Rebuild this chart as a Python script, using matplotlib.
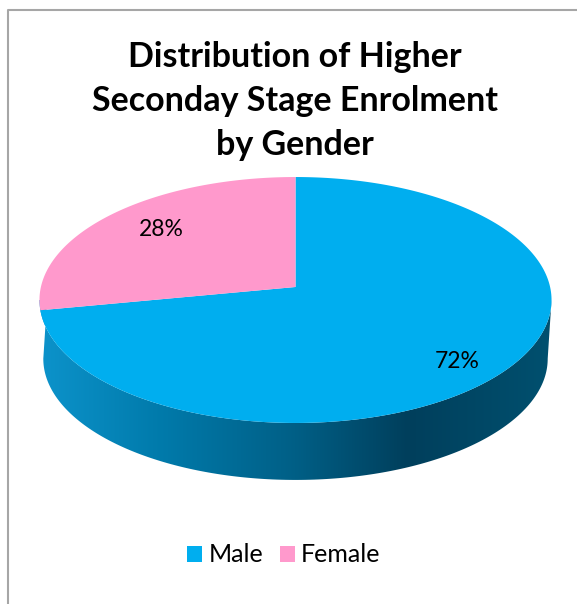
import numpy as np
import matplotlib
matplotlib.use('Agg')
import matplotlib.pyplot as plt
from matplotlib.colors import LinearSegmentedColormap
from matplotlib.patches import Patch, Polygon

categories = ['Male', 'Female']
shares = [72, 28]
colors = ['#00AEEF', '#FF99CC']
title = 'Distribution of Higher\nSeconday Stage Enrolment\nby Gender'

plt.rcParams['font.family'] = ['Lato', 'DejaVu Sans']

# pie geometry in pixels, the ellipse is a circle seen with a bit of perspective
CX, CY = 295.5, 287
RX, RY, K = 254.6, 121.6, 0.1057
DEPTH, SHRINK = 59, 0.985


def project(theta, r=1.0, dy=0.0, s=1.0):
    u, v = r * np.cos(theta), r * np.sin(theta)
    w = 1 + K * v
    return CX + s * RX * u / w, CY + dy - s * RY * v / w


fig = plt.figure(figsize=(5.77, 6.04), dpi=100)
ax = fig.add_axes([0, 0, 1, 1])
ax.set_xlim(0, 577)
ax.set_ylim(604, 0)
ax.axis('off')

# chart frame, cut off by the screenshot on the right and bottom
ax.plot([7.5, 7.5, 577], [604, 10, 10], color='#A6A6A6', lw=1.5)

# side wall with shading, edges run from the top rim to the widest points below
left, right = np.radians(186), np.radians(354)
t_top = np.linspace(np.radians(170), right, 200)
t_bot = np.linspace(right, left, 200)
xt, yt = project(t_top)
xb, yb = project(t_bot, dy=DEPTH, s=SHRINK)
wall = Polygon(np.column_stack([np.r_[xt, xb], np.r_[yt, yb]]), closed=True,
               facecolor='none', edgecolor='none')
ax.add_patch(wall)
shade = LinearSegmentedColormap.from_list('shade', [
    (0.0, '#0C93CB'), (0.25, '#0079A9'), (0.5, '#005F86'),
    (0.72, '#003F5C'), (1.0, '#00506F')])
img = ax.imshow(np.linspace(0, 1, 256)[None, :], cmap=shade, aspect='auto',
                extent=(39, 552, 490, 300), zorder=1)
img.set_clip_path(wall)
ax.set_xlim(0, 577)
ax.set_ylim(604, 0)

# top face
start = np.pi / 2
for name, share, color in zip(categories, shares, colors):
    sweep = -2 * np.pi * share / sum(shares)
    t = np.linspace(start, start + sweep, 300)
    x, y = project(t)
    pts = np.column_stack([np.r_[CX, x], np.r_[CY, y]])
    ax.add_patch(Polygon(pts, closed=True, facecolor=color, edgecolor='none', zorder=2))
    start += sweep

ax.text(294.5, 101, title, ha='center', va='center', fontsize=24.5, fontweight='bold',
        color='black', linespacing=1.47)
ax.text(457, 361, '72%', ha='center', va='center', fontsize=16.5, color='black', zorder=3)
ax.text(161, 229, '28%', ha='center', va='center', fontsize=16.5, color='black', zorder=3)

handles = [Patch(facecolor=c, edgecolor='none', label=n) for n, c in zip(categories, colors)]
ax.legend(handles=handles, ncol=2, frameon=False, fontsize=18,
          loc='center', bbox_to_anchor=(284 / 577, 1 - 555 / 604),
          handlelength=0.6, handleheight=0.6, handletextpad=0.24, columnspacing=0.68)

fig.savefig('out.png', dpi=100)
